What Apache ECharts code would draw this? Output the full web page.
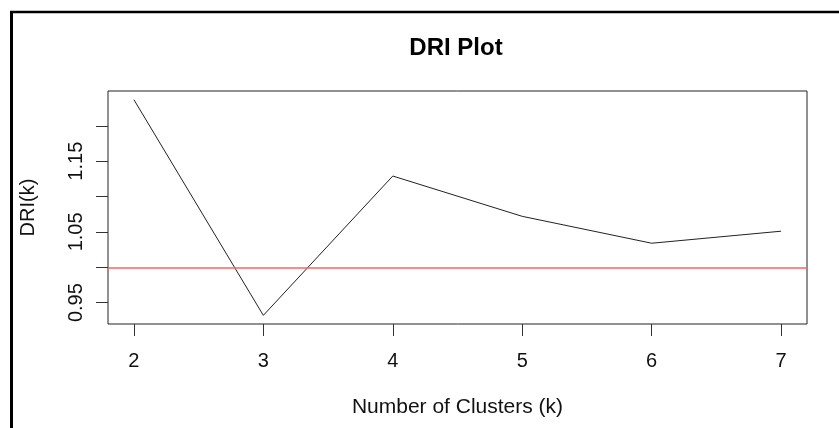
<!DOCTYPE html>
<html>
<head>
<meta charset="utf-8">
<script src="https://cdn.jsdelivr.net/npm/echarts@6/dist/echarts.min.js"></script>
<style>
html,body{margin:0;padding:0;background:#fff;}
#chart{width:839px;height:428px;}
</style>
</head>
<body>
<div id="chart"></div>
<script>
// Data
const clusters = [2, 3, 4, 5, 6, 7];
const driValues = [1.237, 0.932, 1.129, 1.072, 1.034, 1.051];
const referenceLevel = 1.0;
const yTickValues = [0.95, 1.00, 1.05, 1.10, 1.15, 1.20];
const yLabelValues = [0.95, 1.05, 1.15];
const xTickValues = [2, 3, 4, 5, 6, 7];

// R-style 4% axis expansion
function expand(arr) {
  const lo = Math.min(...arr), hi = Math.max(...arr);
  const pad = (hi - lo) * 0.04;
  return [lo - pad, hi + pad];
}
const xr = expand(clusters);
const yr = expand(driValues);

const FONT = '"Liberation Sans", Arial, sans-serif';
const chart = echarts.init(document.getElementById('chart'), null, {renderer: 'canvas'});
chart.setOption({
  animation: false,
  backgroundColor: '#fff',
  title: {
    text: 'DRI Plot',
    left: 451, textAlign: 'center',
    top: 31,
    textStyle: {fontFamily: FONT, fontSize: 24, fontWeight: 'bold', color: '#000'}
  },
  grid: {
    left: 108, right: 32, top: 91, bottom: 104,
    show: true, borderColor: '#222', borderWidth: 1, backgroundColor: 'transparent'
  },
  graphic: [
    {type: 'line', shape: {x1: 11.5, y1: 11, x2: 11.5, y2: 440}, style: {stroke: '#000', lineWidth: 3}, silent: true},
    {type: 'line', shape: {x1: 10, y1: 12, x2: 850, y2: 12}, style: {stroke: '#000', lineWidth: 2.5}, silent: true}
  ],
  xAxis: {
    type: 'value',
    min: xr[0], max: xr[1],
    name: 'Number of Clusters (k)',
    nameLocation: 'middle',
    nameGap: 73,
    nameTextStyle: {fontFamily: FONT, fontSize: 21, color: '#111', verticalAlign: 'top'},
    axisLine: {show: false},
    axisTick: {show: true, length: 12, customValues: xTickValues, lineStyle: {color: '#333', width: 1}},
    axisLabel: {customValues: xTickValues, margin: 27, fontFamily: FONT, fontSize: 20, color: '#111',
      formatter: v => String(v)},
    splitLine: {show: false}
  },
  yAxis: {
    type: 'value',
    min: yr[0], max: yr[1],
    name: 'DRI(k)',
    nameLocation: 'middle',
    nameGap: 70,
    nameTextStyle: {fontFamily: FONT, fontSize: 20, color: '#111'},
    axisLine: {show: false},
    axisTick: {show: true, length: 12, customValues: yTickValues, lineStyle: {color: '#333', width: 1}},
    axisLabel: {customValues: yLabelValues, rotate: 90, margin: 22, fontFamily: FONT, fontSize: 20, color: '#111',
      formatter: v => v.toFixed(2)},
    splitLine: {show: false}
  },
  series: [{
    type: 'line',
    data: clusters.map((k, i) => [k, driValues[i]]),
    symbol: 'none',
    lineStyle: {color: '#222', width: 1},
    markLine: {
      silent: true,
      symbol: 'none',
      label: {show: false},
      lineStyle: {color: '#ff6060', width: 1.6, type: 'solid'},
      data: [{yAxis: referenceLevel}]
    }
  }]
});
</script>
</body>
</html>
